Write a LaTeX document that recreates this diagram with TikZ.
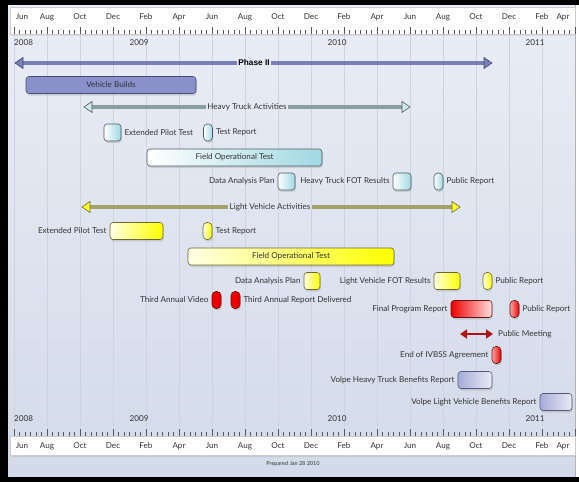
\documentclass[tikz,border=0pt]{standalone}
\usepackage{fontspec}
\setmainfont{Lato}
\newfontfamily\arialfont{Liberation Sans}
\usetikzlibrary{positioning,shadows,arrows.meta}

\definecolor{bgtop}{HTML}{E9EDF5}
\definecolor{bgbot}{HTML}{D3DAE9}
\definecolor{gridcol}{HTML}{CDD3E0}
\definecolor{txt}{HTML}{333333}
\definecolor{vbfill}{HTML}{8A90CA}
\definecolor{vbline}{HTML}{484C76}
\definecolor{htfill}{HTML}{A0D8E2}
\definecolor{htline}{HTML}{4E5A60}
\definecolor{htshaft}{HTML}{8C9EA1}
\definecolor{lvfill}{HTML}{FFFF00}
\definecolor{lvline}{HTML}{6C6C2A}
\definecolor{lvshaft}{HTML}{A2A366}
\definecolor{redfill}{HTML}{EE0000}
\definecolor{redline}{HTML}{6A1010}
\definecolor{vofill}{HTML}{A6ACD8}
\definecolor{voline}{HTML}{555A7A}
\definecolor{phfill}{HTML}{7A80B6}
\definecolor{phline}{HTML}{454972}
\definecolor{mtgred}{HTML}{B01515}

\begin{document}
\begin{tikzpicture}[x=1pt,y=-1pt,font=\fontsize{8.1}{9}\selectfont]
	% month width and axis origin (Jun 2008)
	\def\mw{16.5}
	\def\xo{14}
	% box height
	\def\bh{17}
	% node style definition
	\tikzstyle{bar} = [rounded corners=3pt, line width=0.6pt, minimum height=\bh, inner sep=0pt, text=txt, drop shadow={opacity=0.25,shadow xshift=0.8pt,shadow yshift=-2pt}];
	\tikzstyle{pill} = [bar, minimum width=9, rounded corners=4pt];
	\tikzstyle{vb} = [draw=vbline, fill=vbfill];
	\tikzstyle{ht} = [draw=htline, left color=white, right color=htfill];
	\tikzstyle{lv} = [draw=lvline, left color=lvfill!10!white, right color=lvfill];
	\tikzstyle{rd} = [draw=redline, fill=redfill];
	\tikzstyle{rdl} = [draw=redline, left color=redfill!35!white, right color=redfill];
	\tikzstyle{vo} = [draw=voline, left color=vofill, right color=vofill!25!white];
	\tikzstyle{lbl} = [text=txt, inner sep=1pt];
	\tikzstyle{month} = [text=txt, inner sep=0pt];
	\tikzstyle{year} = [text=txt, inner sep=0pt, anchor=west];
	\tikzstyle{tick} = [gray!70!black, line width=0.45pt];
	\tikzstyle{shaft} = [line width=0.5pt, double distance=3.8pt];
	\tikzstyle{head} = [line width=0.6pt, line join=miter];
	\tikzstyle{arrlbl} = [text=txt, inner sep=1.5pt];

	\useasboundingbox (0,0) rectangle (579,482);
	% frame and background
	\fill[white] (0,0) rectangle (579,482);
	\shade[top color=bgtop,bottom color=bgbot] (8,5) rectangle (575,477);
	\draw[gray!60,line width=0.6pt] (575,5) -- (575,477);
	\fill[black] (0,0) rectangle (579,5);
	\fill[black] (0,477) rectangle (579,482);
	\fill[black] (0,0) rectangle (8,482);

	% grid lines every two months
	\foreach \m in {0,2,...,32}
		\draw[gridcol,line width=0.5pt] (\xo+\m*\mw,34) -- (\xo+\m*\mw,427);

	% time scale bands, top and bottom
	\fill[white, draw=gray!40, drop shadow={opacity=0.15,shadow xshift=0.5pt,shadow yshift=-1.5pt}] (10,7) rectangle (575,34);
	\fill[white, draw=gray!40, drop shadow={opacity=0.2,shadow xshift=0.5pt,shadow yshift=-2pt}] (10,436) rectangle (575,455);
	\foreach \k in {0,...,102} {
		\pgfmathsetmacro\tl{ifthenelse(mod(\k,6)==0,6.5,3.5)}
		\draw[tick] (\xo+\k*\mw/3,33.5) -- ++(0,-\tl);
		\draw[tick] (\xo+\k*\mw/3,435.5) -- ++(0,-\tl);
	}
	\foreach \mn [count=\i from 0] in {Jun,Aug,Oct,Dec,Feb,Apr,Jun,Aug,Oct,Dec,Feb,Apr,Jun,Aug,Oct,Dec,Feb,Apr} {
		\pgfmathsetmacro\xm{min(max(\xo+2*\i*\mw,22),563)}
		\node[month] (mt\i) at (\xm,17) {\mn};
		\node[month] (mb\i) at (\xm,446) {\mn};
	}
	\foreach \yr/\m in {2008/0,2009/7,2010/19,2011/31} {
		\node[year] (yt\yr) at (\xo+\m*\mw,43) {\yr};
		\node[year] (yb\yr) at (\xo+\m*\mw,419) {\yr};
	}
	\node[text=txt, font=\fontsize{5.5}{6}\selectfont] (prep) at (293,464) {Prepared Jan 28 2010};

	% Phase II
	\coordinate (phl) at (15,63);
	\coordinate (phr) at (492,63);
	\node[arrlbl, text=black, font=\arialfont\bfseries\fontsize{8.3}{9}\selectfont] (ph) at (254,63) {Phase II};
	\draw[shaft, draw=phline, double=phfill] ([xshift=7pt]phl) -- (ph.west);
	\draw[shaft, draw=phline, double=phfill] (ph.east) -- ([xshift=-7pt]phr);
	\filldraw[head, draw=phline, fill=phfill] (phl) -- ++(8,-5.5) -- ++(0,11) -- cycle;
	\filldraw[head, draw=phline, fill=phfill] (phr) -- ++(-8,-5.5) -- ++(0,11) -- cycle;
	\node[bar, vb, minimum width=170] (vb) at (111,85) {Vehicle Builds};

	% heavy truck
	\coordinate (htl) at (84,107);
	\coordinate (htr) at (410,107);
	\node[arrlbl] (hta) at (247,107) {Heavy Truck Activities};
	\draw[shaft, draw=htline!80, double=htshaft] ([xshift=7pt]htl) -- (hta.west);
	\draw[shaft, draw=htline!80, double=htshaft] (hta.east) -- ([xshift=-7pt]htr);
	\filldraw[head, draw=htline, fill=htfill!50!white] (htl) -- ++(8,-5.5) -- ++(0,11) -- cycle;
	\filldraw[head, draw=htline, fill=htfill!50!white] (htr) -- ++(-8,-5.5) -- ++(0,11) -- cycle;

	\node[bar, ht, minimum width=17] (htept) at (112.5,132.5) {};
	\node[lbl, right=2pt of htept] {Extended Pilot Test};
	\node[pill, ht] (httr) at (208,132.5) {};
	\node[lbl, right=2pt of httr] {Test Report};
	\node[bar, ht, minimum width=175] (htfot) at (234.5,157.5) {Field Operational Test};
	\node[bar, ht, minimum width=17] (htdap) at (286.5,181.5) {};
	\node[lbl, left=2pt of htdap] {Data Analysis Plan};
	\node[bar, ht, minimum width=18] (htres) at (402,181.5) {};
	\node[lbl, left=2pt of htres] {Heavy Truck FOT Results};
	\node[pill, ht] (htpr) at (438.5,181.5) {};
	\node[lbl, right=2pt of htpr] {Public Report};

	% light vehicle
	\coordinate (lvl) at (82,207);
	\coordinate (lvr) at (460,207);
	\node[arrlbl] (lva) at (270,207) {Light Vehicle Activities};
	\draw[shaft, draw=lvline!70, double=lvshaft] ([xshift=7pt]lvl) -- (lva.west);
	\draw[shaft, draw=lvline!70, double=lvshaft] (lva.east) -- ([xshift=-7pt]lvr);
	\filldraw[head, draw=lvline, fill=lvfill!85!white] (lvl) -- ++(8,-5.5) -- ++(0,11) -- cycle;
	\filldraw[head, draw=lvline, fill=lvfill!85!white] (lvr) -- ++(-8,-5.5) -- ++(0,11) -- cycle;

	\node[bar, lv, minimum width=53] (lvept) at (136.5,231) {};
	\node[lbl, left=2pt of lvept] {Extended Pilot Test};
	\node[pill, lv] (lvtr) at (207.5,231) {};
	\node[lbl, right=2pt of lvtr] {Test Report};
	\node[bar, lv, minimum width=206] (lvfot) at (291,256.5) {Field Operational Test};
	\node[bar, lv, minimum width=16] (lvdap) at (312,281) {};
	\node[lbl, left=2pt of lvdap] {Data Analysis Plan};
	\node[bar, lv, minimum width=26] (lvres) at (447,281) {};
	\node[lbl, left=2pt of lvres] {Light Vehicle FOT Results};
	\node[pill, lv] (lvpr) at (487.5,281) {};
	\node[lbl, right=2pt of lvpr] {Public Report};

	% reports and end of program
	\node[pill, rd] (vid) at (216.5,300) {};
	\node[lbl, left=2pt of vid] {Third Annual Video};
	\node[pill, rd] (arep) at (235.5,300) {};
	\node[lbl, right=2pt of arep] {Third Annual Report Delivered};
	\node[bar, draw=redline, left color=redfill, right color=redfill!12!white, minimum width=41] (fpr) at (471.5,309) {};
	\node[lbl, left=2pt of fpr] {Final Program Report};
	\node[pill, rdl] (fprpr) at (514.5,309) {};
	\node[lbl, right=2pt of fprpr] {Public Report};
	\coordinate (pml) at (460,334);
	\node[lbl, anchor=west] (pm) at (497,334) {Public Meeting};
	\draw[mtgred, line width=2pt, {Triangle[length=7pt,width=9pt]}-{Triangle[length=7pt,width=9pt]}] (pml) -- ([xshift=-4pt]pm.west);
	\node[pill, rdl] (ivbss) at (496.5,355) {};
	\node[lbl, left=2pt of ivbss] {End of IVBSS Agreement};
	\node[bar, vo, minimum width=34] (vht) at (475,380) {};
	\node[lbl, left=2pt of vht] {Volpe Heavy Truck Benefits Report};
	\node[bar, vo, minimum width=32] (vlv) at (556,402) {};
	\node[lbl, left=2pt of vlv] {Volpe Light Vehicle Benefits Report};
\end{tikzpicture}
\end{document}
